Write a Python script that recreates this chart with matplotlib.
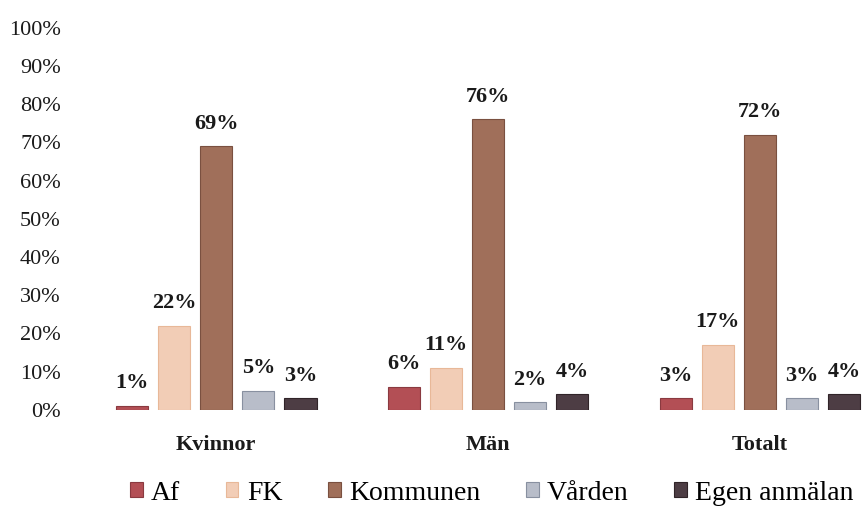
import numpy as np
import matplotlib
matplotlib.use('Agg')
import matplotlib.pyplot as plt
from matplotlib.patches import Rectangle
from matplotlib.ticker import MultipleLocator, PercentFormatter

plt.rcParams['font.family'] = ['Liberation Serif', 'DejaVu Serif']

# data
groups = ['Kvinnor', 'Män', 'Totalt']
series = ['Af', 'FK', 'Kommunen', 'Vården', 'Egen anmälan']
af = [1, 6, 3]
fk = [22, 11, 17]
kommunen = [69, 76, 72]
varden = [5, 2, 3]
egen = [3, 4, 4]
values = [af, fk, kommunen, varden, egen]

colors = ['#b34f55', '#f2cdb6', '#a06f5a', '#b8bdc9', '#4d3d44']
edges = ['#8a3a40', '#e8b898', '#7a5040', '#8890a0', '#302428']

fig = plt.figure(figsize=(8.63, 5.22), dpi=100)
ax = fig.add_axes([0.093, 0.215, 0.907, 0.732])

x = np.arange(len(groups))
w = 0.118
step = 0.155

for i, (name, vals) in enumerate(zip(series, values)):
	xs = x + (i - 2) * step
	bars = ax.bar(xs, vals, width=w, color=colors[i], edgecolor=edges[i], lw=0.8, label=name)
	for b, v in zip(bars, vals):
		ax.annotate('%d%%' % v, (b.get_x() + b.get_width() / 2, b.get_height()),
			xytext=(0, 9), textcoords='offset points', ha='center', va='bottom',
			fontsize=16, fontweight='bold', color='#1a1a1a')

ax.set_ylim(0, 100)
ax.set_xlim(-0.5, 2.379)
ax.yaxis.set_major_locator(MultipleLocator(10))
ax.yaxis.set_major_formatter(PercentFormatter(decimals=0))
ax.set_xticks(x)
ax.set_xticklabels(groups, fontsize=16, fontweight='bold')
ax.tick_params(axis='both', length=0, colors='#1a1a1a')
ax.tick_params(axis='y', labelsize=16, pad=14)
ax.tick_params(axis='x', pad=18)
for s in ax.spines.values():
	s.set_visible(False)

handles = [Rectangle((0, 0), 1, 1, facecolor=c, edgecolor=e, lw=0.8) for c, e in zip(colors, edges)]
fig.legend(handles, series, loc='center', bbox_to_anchor=(0.57, 0.055), ncol=5,
	frameon=False, fontsize=20, handlelength=0.45, handleheight=0.45,
	handletextpad=0.3, columnspacing=1.65)

fig.savefig('out.png', dpi=100)
